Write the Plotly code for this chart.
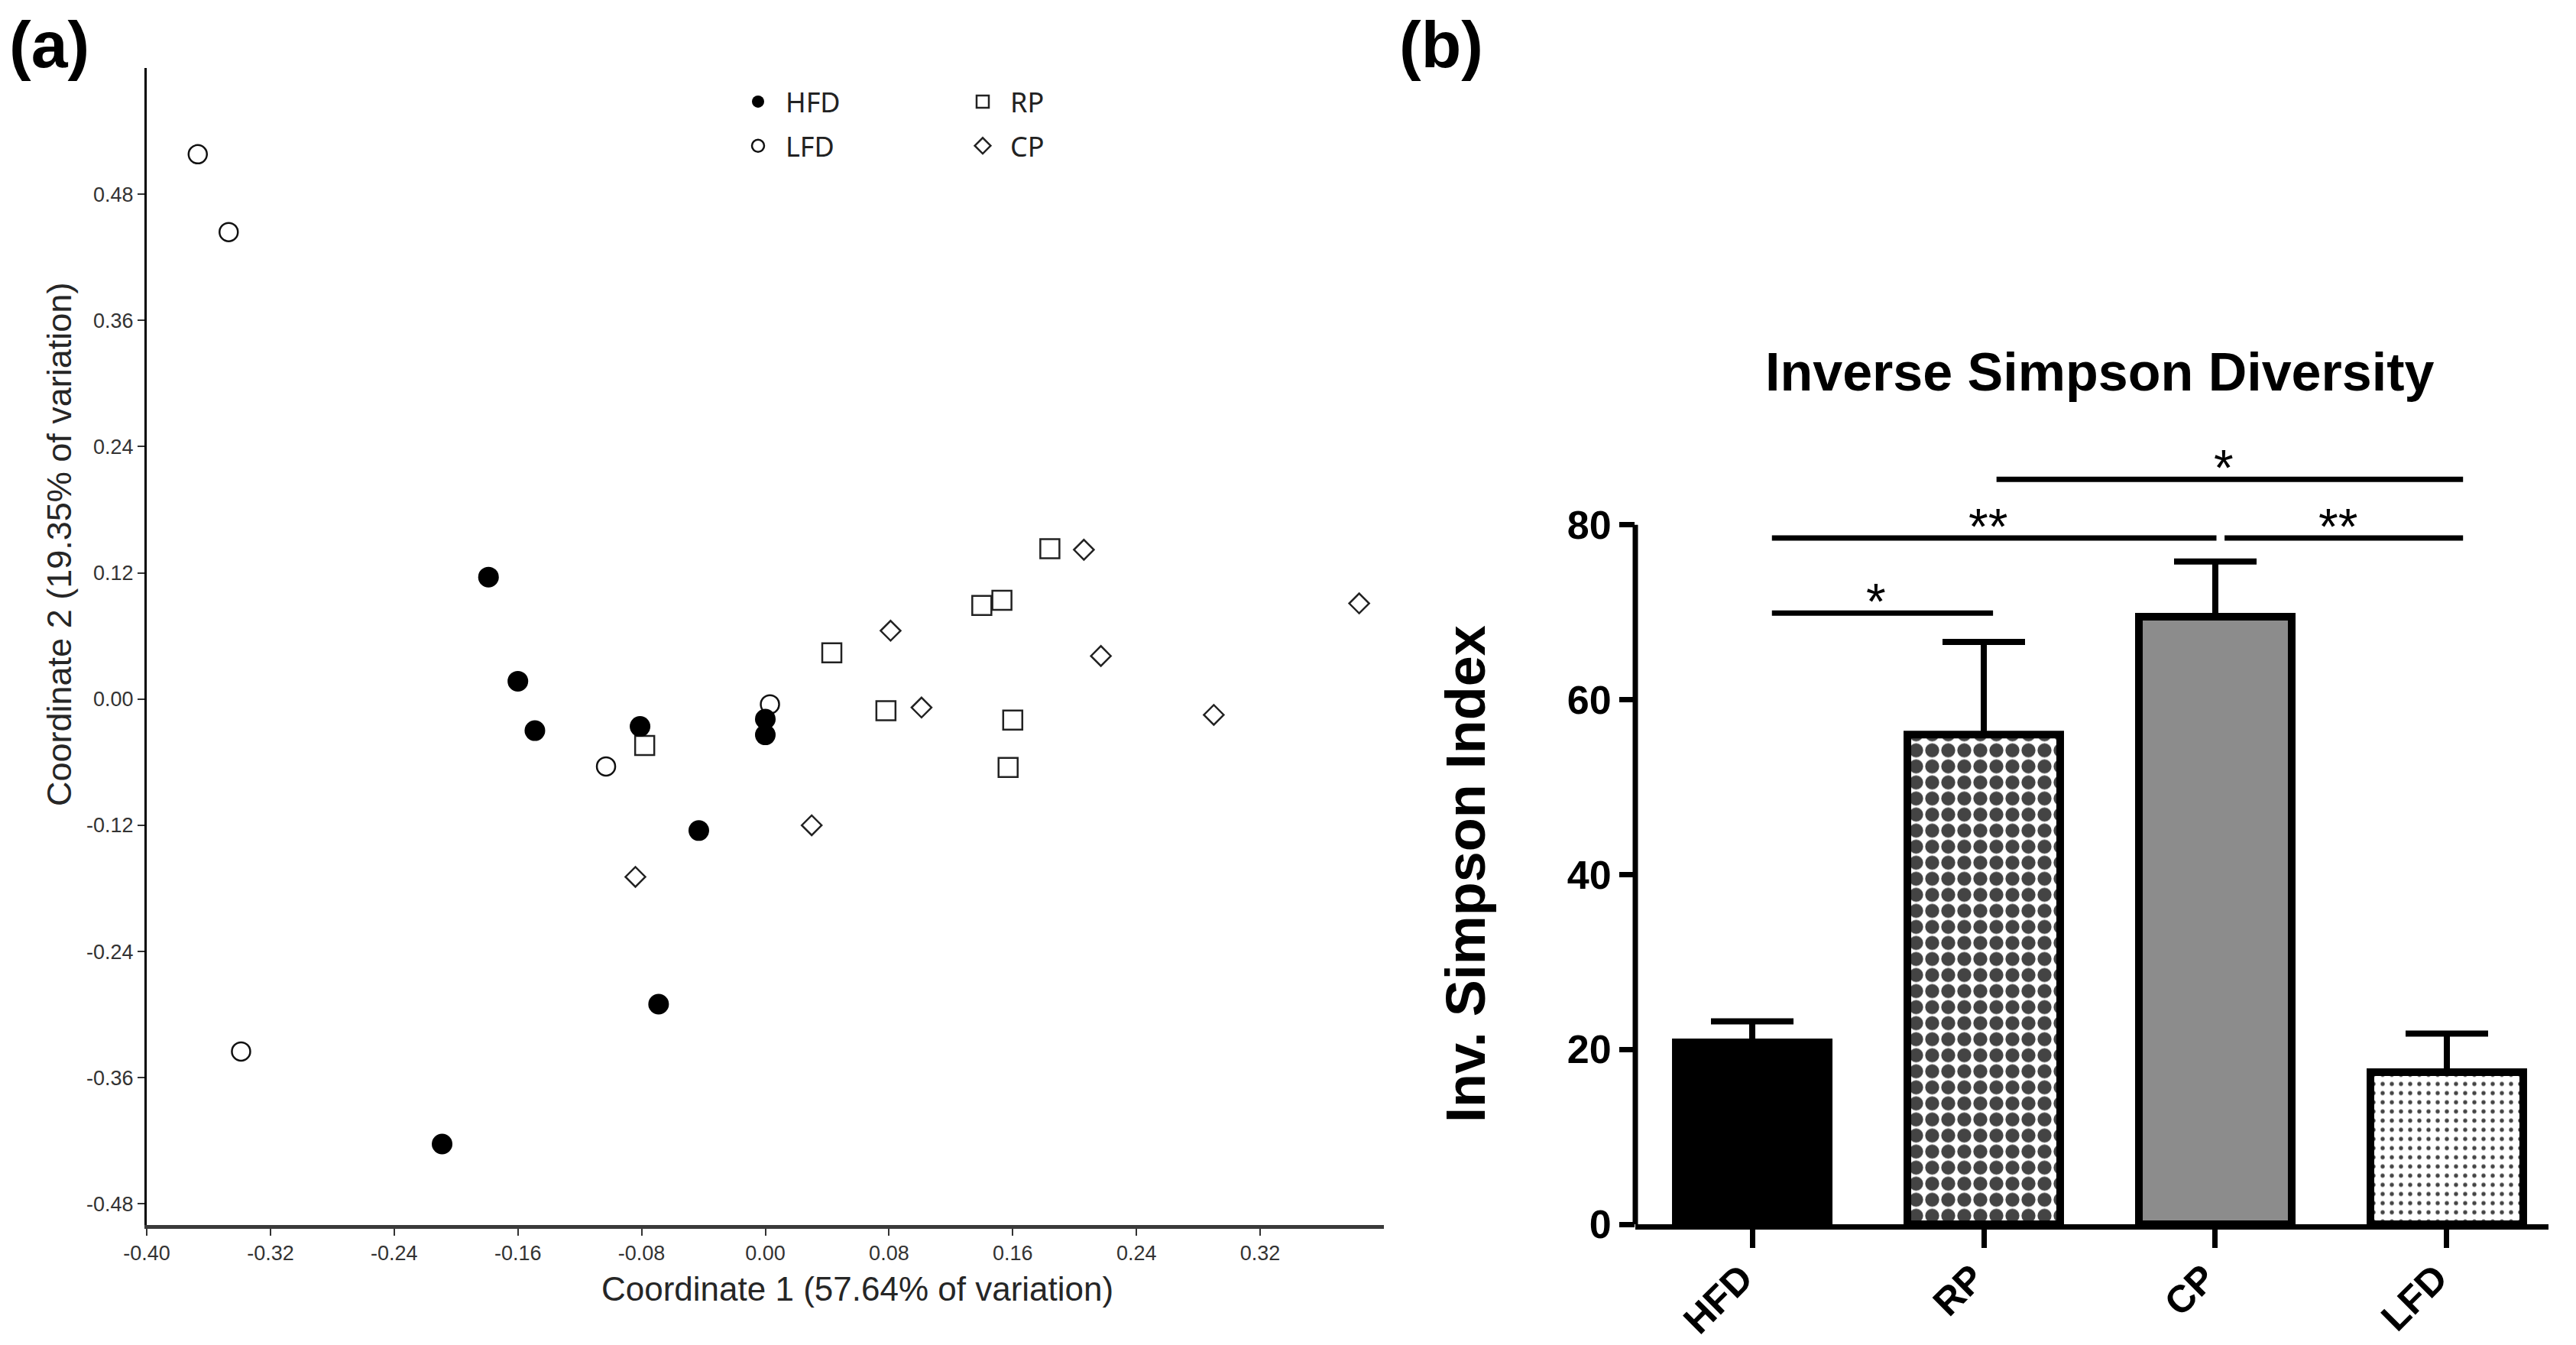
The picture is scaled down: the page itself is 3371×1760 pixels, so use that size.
import plotly.graph_objects as go

W, H = 3371, 1760

# ---- (a) PCoA scores ----
hfd_x = [-0.179, -0.160, -0.149, -0.081, 0.000, 0.000, -0.043, -0.069, -0.209]
hfd_y = [0.116, 0.017, -0.030, -0.026, -0.019, -0.034, -0.125, -0.290, -0.423]
lfd_x = [-0.367, -0.347, -0.339, -0.103, 0.003]
lfd_y = [0.518, 0.444, -0.335, -0.064, -0.005]
rp_x = [-0.078, 0.043, 0.078, 0.140, 0.153, 0.184, 0.160, 0.157]
rp_y = [-0.044, 0.044, -0.011, 0.089, 0.094, 0.143, -0.020, -0.065]
cp_x = [-0.084, 0.030, 0.081, 0.101, 0.206, 0.217, 0.290, 0.384]
cp_y = [-0.169, -0.120, 0.065, -0.008, 0.142, 0.041, -0.015, 0.091]

pcoa_xticks = [-0.40, -0.32, -0.24, -0.16, -0.08, 0.00, 0.08, 0.16, 0.24, 0.32]
pcoa_xtext = ["-0.40", "-0.32", "-0.24", "-0.16", "-0.08", "0.00", "0.08", "0.16", "0.24", "0.32"]
pcoa_yticks = [-0.48, -0.36, -0.24, -0.12, 0.00, 0.12, 0.24, 0.36, 0.48]
pcoa_ytext = ["-0.48", "-0.36", "-0.24", "-0.12", "0.00", "0.12", "0.24", "0.36", "0.48"]

# ---- (b) inverse Simpson ----
groups = ["HFD", "RP", "CP", "LFD"]
inv_simpson = [20.8, 56.0, 69.5, 17.4]
inv_sem = [2.4, 10.6, 6.3, 4.4]
bar_yticks = [0, 20, 40, 60, 80]

# significance brackets (x in category units)
sig_x0 = [0.085, 0.085, 2.04, 1.055]
sig_x1 = [1.04, 2.005, 3.07, 3.07]
sig_y = [69.9, 78.5, 78.5, 85.2]
sig_txt = ["*", "**", "**", "*"]

AX = "Liberation Sans"
fig = go.Figure()

# draw order: HFD last so filled dots sit on top
fig.add_trace(go.Scatter(x=lfd_x, y=lfd_y, mode="markers", name="LFD",
                         marker=dict(symbol="circle", size=24, color="white",
                                     line=dict(color="#111", width=2.5)),
                         legend="legend", legendgroup="LFD", legendrank=2))
fig.add_trace(go.Scatter(x=rp_x, y=rp_y, mode="markers", name="RP",
                         marker=dict(symbol="square", size=25, color="white",
                                     line=dict(color="#222", width=2.5)),
                         legend="legend2", legendgroup="RP", legendrank=1))
fig.add_trace(go.Scatter(x=cp_x, y=cp_y, mode="markers", name="CP",
                         marker=dict(symbol="diamond", size=20, color="white",
                                     line=dict(color="#222", width=2.5)),
                         legend="legend2", legendgroup="CP", legendrank=2))
fig.add_trace(go.Scatter(x=hfd_x, y=hfd_y, mode="markers", name="HFD",
                         marker=dict(symbol="circle", size=27, color="black",
                                     line=dict(width=0)),
                         legend="legend", legendgroup="HFD", legendrank=1))

# bars
fig.add_trace(go.Bar(
    x=list(range(len(groups))), y=inv_simpson, width=0.66,
    xaxis="x2", yaxis="y2", showlegend=False,
    marker=dict(
        color=["black", "white", "#8c8c8c", "white"],
        line=dict(color="black", width=10),
        pattern=dict(shape=["", ".", "", "."], size=[10, 21, 10, 12],
                     solidity=[0.3, 0.6, 0.3, 0.16], fgcolor="black",
                     fgopacity=1),
    ),
    error_y=dict(type="data", array=inv_sem, arrayminus=[0] * len(groups),
                 symmetric=False, color="black", thickness=8, width=54),
))

for x0, x1, y, t in zip(sig_x0, sig_x1, sig_y, sig_txt):
    fig.add_trace(go.Scatter(x=[x0, x1], y=[y, y], mode="lines",
                             line=dict(color="black", width=7),
                             xaxis="x2", yaxis="y2", showlegend=False,
                             hoverinfo="skip", cliponaxis=False))
    fig.add_annotation(x=(x0 + x1) / 2, y=y, xref="x2", yref="y2", text=t,
                       showarrow=False, xanchor="center", yanchor="middle",
                       yshift=15, xshift=-8,
                       font=dict(family=AX, size=66, color="black"))

tickfont_a = dict(family=AX, size=27, color="#333")
boldfont = dict(family=AX, size=52, color="black", weight="bold")

fig.update_layout(
    width=W, height=H, margin=dict(l=0, r=0, t=0, b=0, autoexpand=False),
    paper_bgcolor="white", plot_bgcolor="white", showlegend=True,
    xaxis=dict(domain=[192 / W, 1811 / W], range=[-0.40, 0.40], anchor="y",
               automargin=False,
               showline=True, linecolor="#3a3a3a", linewidth=5,
               ticks="outside", ticklen=9, tickwidth=2, tickcolor="#333",
               tickvals=pcoa_xticks, ticktext=pcoa_xtext, tickfont=tickfont_a,
               showgrid=False, zeroline=False),
    yaxis=dict(domain=[1 - 1603 / H, 1 - 89 / H], range=[-0.50, 0.60], anchor="x",
               automargin=False,
               showline=True, linecolor="black", linewidth=3,
               ticks="outside", ticklen=9, tickwidth=2, tickcolor="#333",
               tickvals=pcoa_yticks, ticktext=pcoa_ytext, tickfont=tickfont_a,
               showgrid=False, zeroline=False),
    xaxis2=dict(domain=[2140 / W, 3335 / W], range=[-0.505, 3.439], anchor="y2",
                automargin=False,
                showline=True, linecolor="black", linewidth=7,
                ticks="outside", ticklen=24, tickwidth=7, tickcolor="black",
                tickvals=list(range(len(groups))), ticktext=groups, tickangle=-45,
                ticklabelshift=-14, ticklabelstandoff=-10,
                tickfont=dict(family=AX, size=50, color="black", weight="bold"),
                showgrid=False, zeroline=False),
    yaxis2=dict(domain=[1 - 1602 / H, 1 - 572.4 / H], range=[0, 90], anchor="x2",
                automargin=False,
                showline=False, ticks="outside", ticklen=20, tickwidth=7,
                tickcolor="black", tickvals=bar_yticks, tickfont=boldfont,
                showgrid=False, zeroline=False),
    legend=dict(x=956 / W, y=1 - 103 / H, xanchor="left", yanchor="top",
                itemwidth=62, tracegroupgap=8, bgcolor="rgba(0,0,0,0)",
                font=dict(family="Noto Sans", size=36, color="#222")),
    legend2=dict(x=1250 / W, y=1 - 103 / H, xanchor="left", yanchor="top",
                 itemwidth=62, tracegroupgap=8, bgcolor="rgba(0,0,0,0)",
                 font=dict(family="Noto Sans", size=36, color="#222")),
    shapes=[dict(type="line", xref="x2 domain", yref="y2", x0=0, x1=0,
                 y0=-0.35, y1=80, line=dict(color="black", width=7))],
)

# titles and panel letters
fig.add_annotation(text="Coordinate 1 (57.64% of variation)", xref="paper", yref="paper",
                   x=1122 / W, y=1 - 1686 / H, showarrow=False,
                   xanchor="center", yanchor="middle",
                   font=dict(family=AX, size=44, color="#262626"))
fig.add_annotation(text="Coordinate 2 (19.35% of variation)", xref="paper", yref="paper",
                   x=78 / W, y=1 - 713 / H, showarrow=False, textangle=-90,
                   xanchor="center", yanchor="middle",
                   font=dict(family=AX, size=45, color="#262626"))
fig.add_annotation(text="Inverse Simpson Diversity", xref="paper", yref="paper",
                   x=2747 / W, y=1 - 487 / H, showarrow=False,
                   xanchor="center", yanchor="middle",
                   font=dict(family=AX, size=70, color="black", weight="bold"))
fig.add_annotation(text="Inv. Simpson Index", xref="paper", yref="paper",
                   x=1918 / W, y=1 - 1144 / H, showarrow=False, textangle=-90,
                   xanchor="center", yanchor="middle",
                   font=dict(family=AX, size=72, color="black", weight="bold"))
fig.add_annotation(text="(a)", xref="paper", yref="paper", x=10 / W, y=1 - 8 / H,
                   xanchor="left", yanchor="top", showarrow=False,
                   font=dict(family=AX, size=86, color="black", weight="bold"))
fig.add_annotation(text="(b)", xref="paper", yref="paper", x=1829 / W, y=1 - 8 / H,
                   xanchor="left", yanchor="top", showarrow=False,
                   font=dict(family=AX, size=86, color="black", weight="bold"))

fig.write_html("out.html", post_script="document.body.style.margin='0';",
               config={"displayModeBar": False})
